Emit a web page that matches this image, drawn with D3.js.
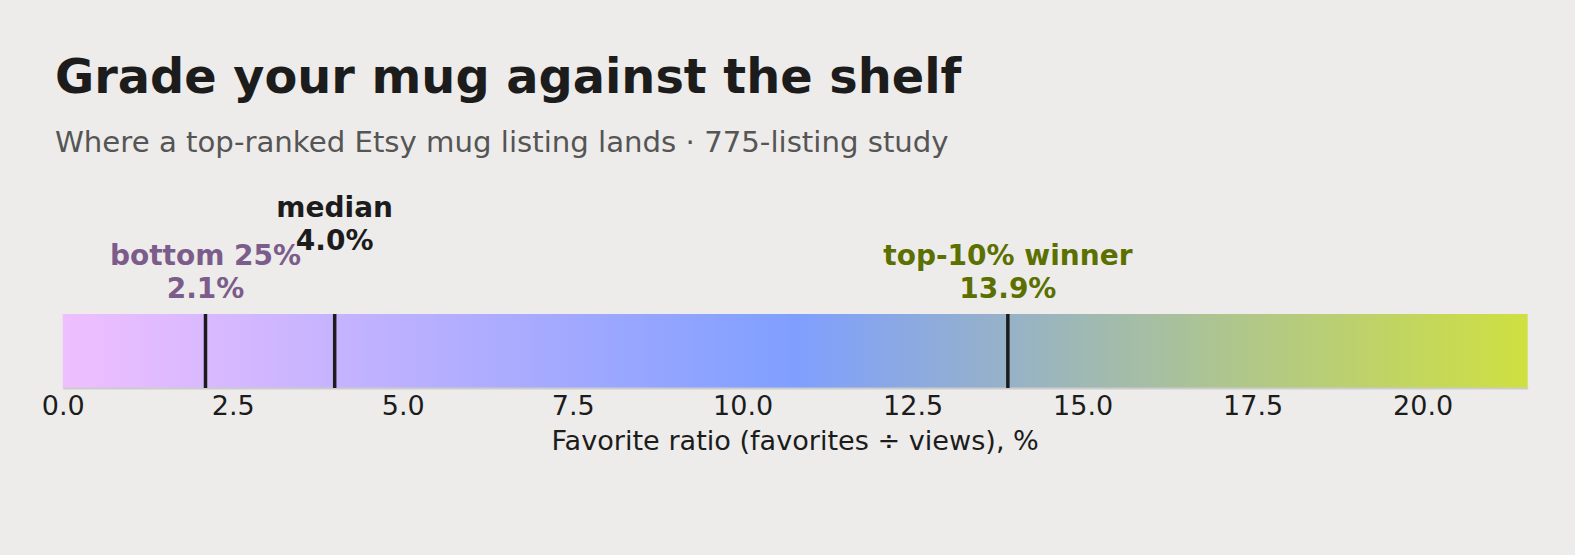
<!DOCTYPE html>
<html><head><meta charset="utf-8">
<script src="https://cdn.jsdelivr.net/npm/d3@7"></script>
<style>body{margin:0;background:#edecea;} svg{display:block;}</style>
</head><body>
<svg id="c" width="1575" height="555"></svg>
<script>
const title = "Grade your mug against the shelf";
const subtitle = "Where a top-ranked Etsy mug listing lands · 775-listing study";
const axisTitle = "Favorite ratio (favorites ÷ views), %";
const domainMax = 21.545;
const tickValues = [0, 2.5, 5, 7.5, 10, 12.5, 15, 17.5, 20];
const markerNames = ["bottom 25%", "median", "top-10% winner"];
const markerValues = [2.1, 4.0, 13.9];
const markerColors = ["#7b5c8b", "#1c1c1c", "#5b7000"];
const markerRaise = [0, 1, 0];
const gradientStops = [0, 0.5, 1];
const gradientColors = ["#efbfff", "#7f9fff", "#cfe040"];

const svg = d3.select("#c");
const W = 1575, H = 555;
svg.append("rect").attr("width", W).attr("height", H).attr("fill", "#edecea");

const x = d3.scaleLinear().domain([0, domainMax]).range([62.7, 1527.7]);
const barTop = 314, barBot = 388;

const defs = svg.append("defs");
const grad = defs.append("linearGradient").attr("id", "g").attr("x1", "0%").attr("x2", "100%");
gradientStops.forEach((s, i) => grad.append("stop").attr("offset", s * 100 + "%").attr("stop-color", gradientColors[i]));

svg.append("rect").attr("x", x(0)).attr("y", barTop).attr("width", x(domainMax) - x(0))
  .attr("height", barBot - barTop).attr("fill", "url(#g)");

const ax = svg.append("g").attr("transform", `translate(0,${barBot})`)
  .call(d3.axisBottom(x).tickValues(tickValues).tickFormat(d3.format(".1f")).tickSize(0).tickPadding(8));
ax.select(".domain").attr("stroke", "#cccccc").attr("stroke-width", 2);
ax.selectAll("text").attr("font-family", "DejaVu Sans").attr("font-size", 27).attr("fill", "#1c1c1c");

svg.append("text").attr("x", (x(0) + x(domainMax)) / 2).attr("y", 450).attr("text-anchor", "middle")
  .attr("font-family", "DejaVu Sans").attr("font-size", 27.1).attr("fill", "#1c1c1c").text(axisTitle);

markerValues.forEach((v, i) => {
  svg.append("line").attr("x1", x(v)).attr("x2", x(v)).attr("y1", barTop).attr("y2", barBot)
    .attr("stroke", "#1c1c1c").attr("stroke-width", 3.5);
  const base = 298 - markerRaise[i] * 48;
  const t = svg.append("text").attr("x", x(v)).attr("text-anchor", "middle")
    .attr("font-family", "DejaVu Sans").attr("font-weight", "bold").attr("font-size", 28)
    .attr("fill", markerColors[i]);
  t.append("tspan").attr("x", x(v)).attr("y", base - 33).text(markerNames[i]);
  t.append("tspan").attr("x", x(v)).attr("y", base).text(v.toFixed(1) + "%");
});

svg.append("text").attr("x", 55).attr("y", 93).attr("font-family", "DejaVu Sans").attr("font-weight", "bold")
  .attr("font-size", 47.8).attr("fill", "#1c1c1c").text(title);
svg.append("text").attr("x", 55).attr("y", 152).attr("font-family", "DejaVu Sans")
  .attr("font-size", 29.2).attr("fill", "#555555").text(subtitle);
</script>
</body></html>
